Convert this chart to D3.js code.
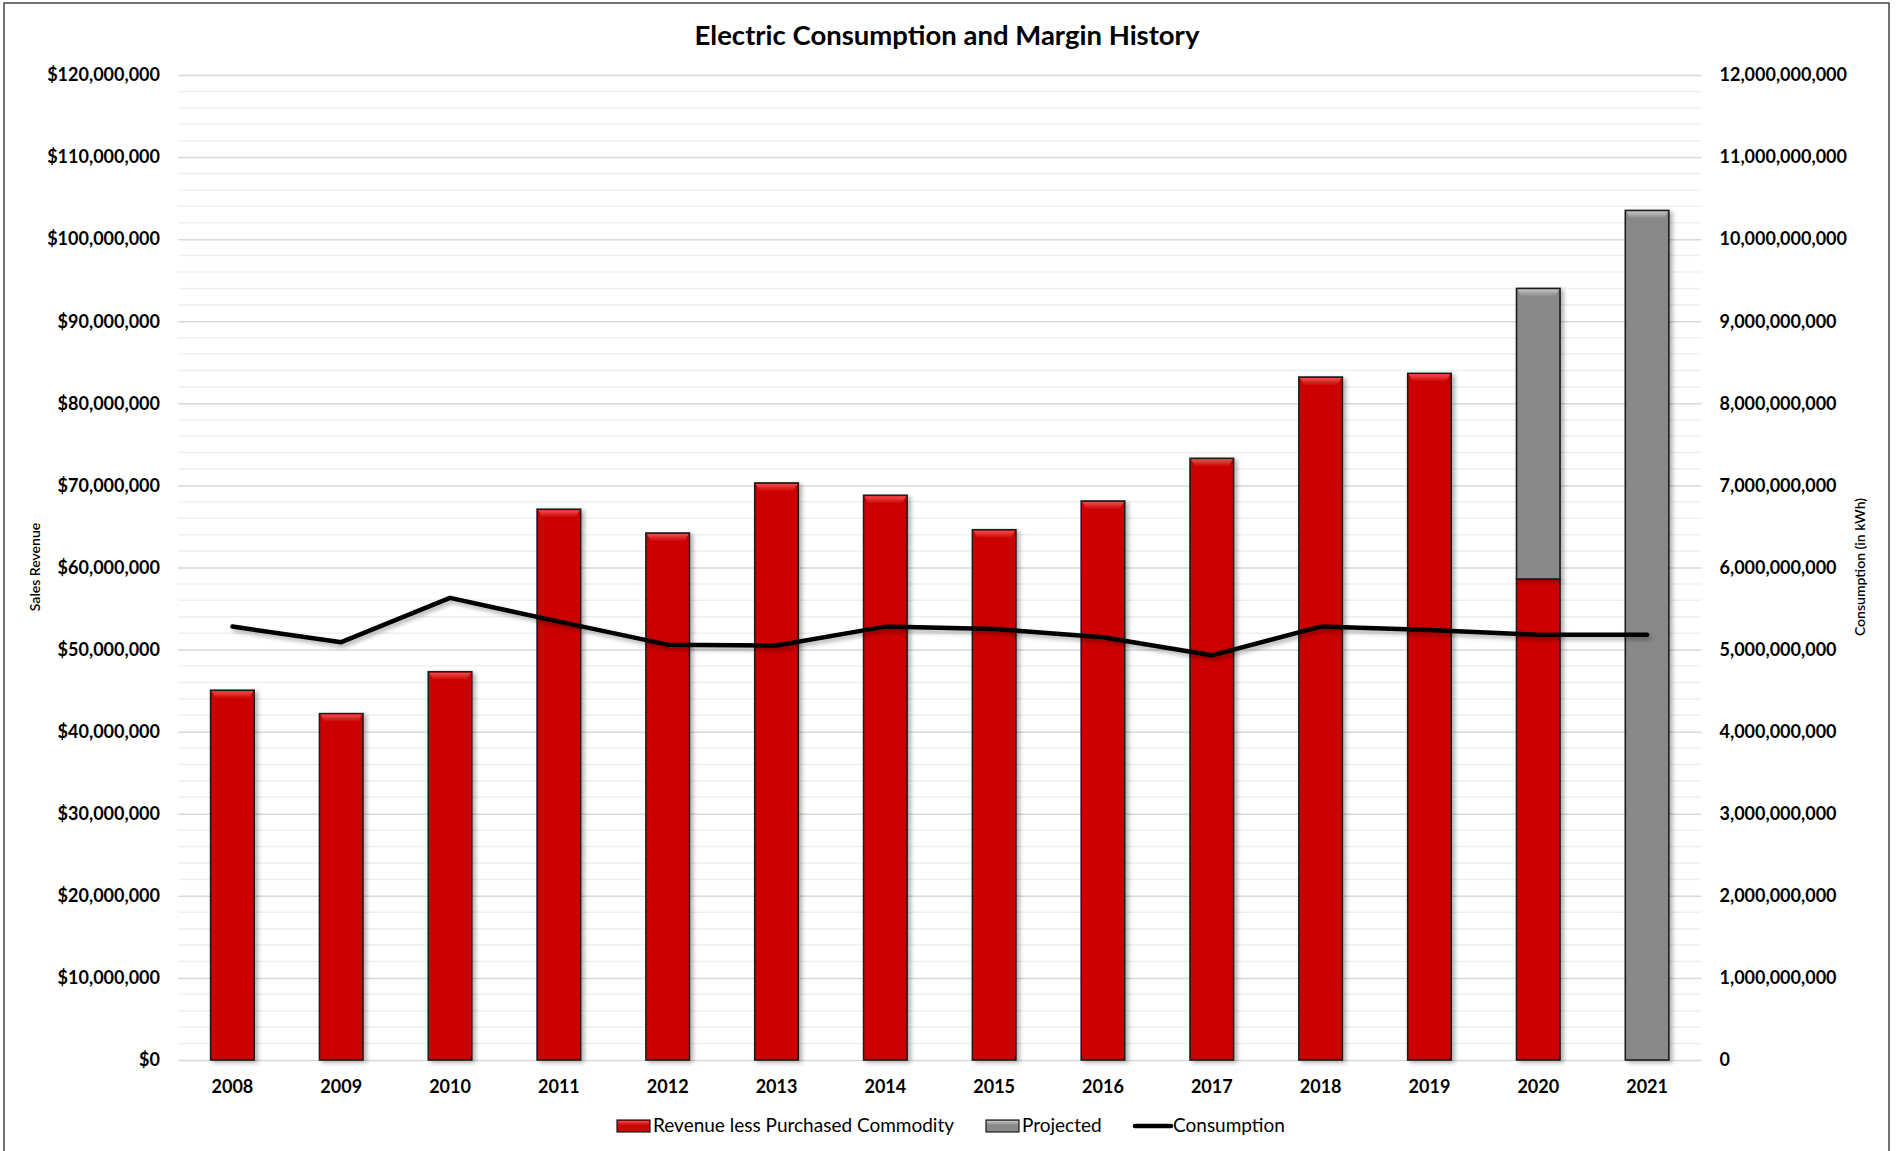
<!DOCTYPE html>
<html><head><meta charset="utf-8">
<script src="https://cdn.jsdelivr.net/npm/d3@7/dist/d3.min.js"></script>
<style>
html,body{margin:0;padding:0;background:#fff;}
svg{display:block;font-family:Lato,"Open Sans",sans-serif;}
</style></head>
<body>
<svg id="chart" width="1898" height="1151"></svg>
<script>
// ---- data ----
const years = ["2008","2009","2010","2011","2012","2013","2014","2015","2016","2017","2018","2019","2020","2021"];
const revenue = [45050000,42200000,47300000,67100000,64200000,70300000,68800000,64600000,68100000,73300000,83200000,83650000,58600000,0];
const projected = [0,0,0,0,0,0,0,0,0,0,0,0,35400000,103500000];
const consumption = [5280000000,5090000000,5630000000,5340000000,5060000000,5050000000,5280000000,5250000000,5150000000,4930000000,5280000000,5240000000,5180000000,5180000000];
const leftTicks = [0,10e6,20e6,30e6,40e6,50e6,60e6,70e6,80e6,90e6,100e6,110e6,120e6];
const rightTicks = [0,1e9,2e9,3e9,4e9,5e9,6e9,7e9,8e9,9e9,10e9,11e9,12e9];
const seriesNames = ["Revenue less Purchased Commodity","Projected","Consumption"];
const titleText = "Electric Consumption and Margin History";

// ---- layout ----
const W=1898,H=1151;
const px0=178, px1=1701.5, py0=75, py1=1060;
const RED="#CC0606", RED_HI="#F44A4A", GRAY="#898989", GRAY_HI="#C4C4C4", EDGE="#1c1c1c";

const svg=d3.select("#chart");
const defs=svg.append("defs");
const f=defs.append("filter").attr("id","shadow").attr("x","-20%").attr("y","-20%").attr("width","140%").attr("height","140%");
f.append("feDropShadow").attr("dx",3).attr("dy",2).attr("stdDeviation",2).attr("flood-color","#000").attr("flood-opacity",0.3);
const fl=defs.append("filter").attr("id","lshadow").attr("x","-5%").attr("y","-50%").attr("width","110%").attr("height","200%");
fl.append("feDropShadow").attr("dx",2).attr("dy",3).attr("stdDeviation",2).attr("flood-color","#000").attr("flood-opacity",0.3);
function grad(id,c1,c2){
  const g=defs.append("linearGradient").attr("id",id).attr("x1",0).attr("y1",0).attr("x2",0).attr("y2",1);
  g.append("stop").attr("offset","0%").attr("stop-color",c1);
  g.append("stop").attr("offset","100%").attr("stop-color",c2);
}
grad("redBevel",RED_HI,RED); grad("grayBevel",GRAY_HI,GRAY);

// border
svg.append("rect").attr("x",4).attr("y",3).attr("width",1885).attr("height",1160)
  .attr("fill","none").attr("stroke","#444").attr("stroke-width",1.5);

const x=d3.scaleBand().domain(years).range([px0,px1]).paddingInner(0.6).paddingOuter(0.3);
const yL=d3.scaleLinear().domain([0,120e6]).range([py1,py0]);
const yR=d3.scaleLinear().domain([0,12e9]).range([py1,py0]);

// minor gridlines
const minor=d3.range(0,120e6+1,2e6).filter(v=>v%10e6!==0);
svg.append("g").selectAll("line").data(minor).join("line")
  .attr("x1",px0).attr("x2",px1).attr("y1",d=>yL(d)).attr("y2",d=>yL(d))
  .attr("stroke","#efefef").attr("stroke-width",1.5);
// major gridlines
svg.append("g").attr("transform",`translate(${px0},0)`)
  .call(d3.axisLeft(yL).tickValues(leftTicks).tickSize(-(px1-px0)).tickFormat(""))
  .call(g=>g.select(".domain").remove())
  .call(g=>g.selectAll("line").attr("stroke","#d9d9d9").attr("stroke-width",1.5));

// left axis labels
svg.append("g").attr("transform",`translate(${px0},0)`)
  .call(d3.axisLeft(yL).tickValues(leftTicks).tickSize(0).tickPadding(18).tickFormat(d3.format("$,")))
  .call(g=>g.select(".domain").remove())
  .call(g=>g.selectAll("text").attr("font-size",18).attr("font-weight",700).attr("fill","#000").attr("font-family","Lato"));
// right axis labels
svg.append("g").attr("transform",`translate(${px1},0)`)
  .call(d3.axisRight(yR).tickValues(rightTicks).tickSize(0).tickPadding(18).tickFormat(d3.format(",")))
  .call(g=>g.select(".domain").remove())
  .call(g=>g.selectAll("text").attr("font-size",18).attr("font-weight",700).attr("fill","#000").attr("font-family","Lato"));
// x axis labels
svg.append("g").attr("transform",`translate(0,${py1})`)
  .call(d3.axisBottom(x).tickSize(0).tickPadding(20))
  .call(g=>g.select(".domain").remove())
  .call(g=>g.selectAll("text").attr("font-size",18).attr("font-weight",700).attr("fill","#000").attr("font-family","Lato"));

// bars
const table=years.map((y,i)=>({year:y,revenue:revenue[i],projected:projected[i]}));
const stack=d3.stack().keys(["revenue","projected"])(table);
const colors={revenue:[RED,"url(#redBevel)"],projected:[GRAY,"url(#grayBevel)"]};
const bw=x.bandwidth();
stack.forEach(s=>{
  const key=s.key;
  const segs=s.filter(d=>d[1]-d[0]>0);
  const g=svg.append("g");
  g.selectAll("rect").data(segs).join("rect")
    .attr("x",d=>x(d.data.year)).attr("width",bw)
    .attr("y",d=>yL(d[1])).attr("height",d=>yL(d[0])-yL(d[1]))
    .attr("fill",colors[key][0]).attr("stroke",EDGE).attr("stroke-width",1.6)
    .attr("filter","url(#shadow)");
  // bevel on top segment only
  const tops=segs.filter(d=> key==="projected" || d.data.projected===0);
  g.selectAll("polygon").data(tops).join("polygon")
    .attr("points",d=>{
      const x0=x(d.data.year)+1, x1=x(d.data.year)+bw-1, t=yL(d[1])+1;
      return [[x0,t],[x1,t],[x1-4,t+7],[x0+4,t+7]].map(p=>p.join(",")).join(" ");
    })
    .attr("fill",colors[key][1]);
});

// consumption line
const line=d3.line().x((d,i)=>x(years[i])+bw/2).y(d=>yR(d));
svg.append("path").datum(consumption).attr("d",line)
  .attr("fill","none").attr("stroke","#000").attr("stroke-width",4.5)
  .attr("stroke-linejoin","round").attr("stroke-linecap","round")
  .attr("filter","url(#lshadow)");

// title
svg.append("text").attr("x",947).attr("y",45).attr("text-anchor","middle")
  .attr("font-size",27.5).attr("font-weight",700).attr("font-family","Lato").text(titleText);

// axis titles
svg.append("text").attr("transform","translate(40,567) rotate(-90)").attr("text-anchor","middle")
  .attr("font-size",14).attr("font-family","Lato").attr("font-weight",600).text("Sales Revenue");
svg.append("text").attr("transform","translate(1865,567) rotate(-90)").attr("text-anchor","middle")
  .attr("font-size",14).attr("font-family","Lato").attr("font-weight",600).text("Consumption (in kWh)");

// legend
const lg=svg.append("g").attr("font-family","Lato").attr("font-size",19);
const legX=[617,986,1135];
lg.append("rect").attr("x",legX[0]).attr("y",1120).attr("width",33).attr("height",12).attr("fill",RED).attr("stroke",EDGE).attr("stroke-width",1.2);
lg.append("rect").attr("x",legX[0]+1).attr("y",1121).attr("width",31).attr("height",4).attr("fill","url(#redBevel)");
lg.append("text").attr("x",legX[0]+36).attr("y",1132).text(seriesNames[0]);
lg.append("rect").attr("x",legX[1]).attr("y",1120).attr("width",33).attr("height",12).attr("fill",GRAY).attr("stroke",EDGE).attr("stroke-width",1.2);
lg.append("rect").attr("x",legX[1]+1).attr("y",1121).attr("width",31).attr("height",4).attr("fill","url(#grayBevel)");
lg.append("text").attr("x",legX[1]+36).attr("y",1132).text(seriesNames[1]);
lg.append("line").attr("x1",legX[2]).attr("x2",legX[2]+36).attr("y1",1126).attr("y2",1126).attr("stroke","#000").attr("stroke-width",4.5).attr("stroke-linecap","round");
lg.append("text").attr("x",legX[2]+38).attr("y",1132).text(seriesNames[2]);
</script>
</body></html>
